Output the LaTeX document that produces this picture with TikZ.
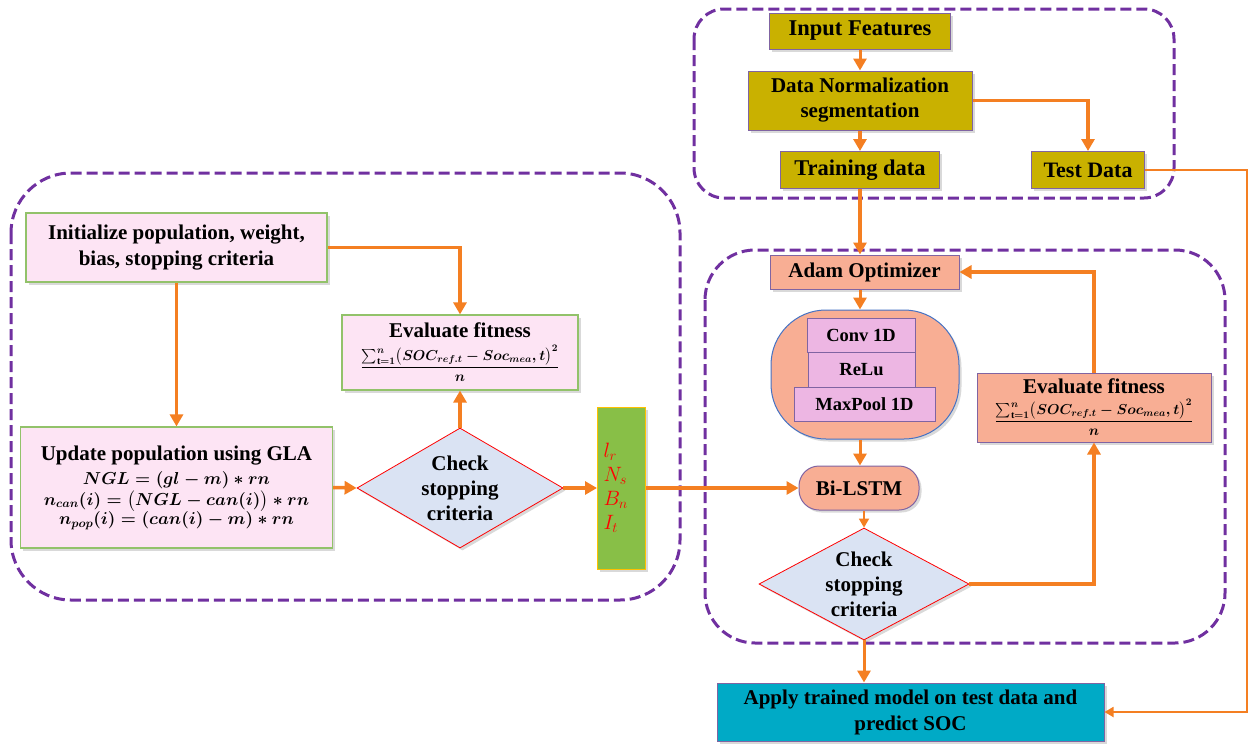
\documentclass[tikz,border=0pt]{standalone}
\usepackage{amsmath}
\usepackage{fontspec}
\setmainfont{Liberation Serif}
\usetikzlibrary{positioning}
\usetikzlibrary{arrows.meta}
\usetikzlibrary{shapes.geometric, shadows}

\definecolor{orng}{HTML}{F47F22}
\definecolor{dpurple}{HTML}{7030A0}
\definecolor{bpurple}{HTML}{8064A2}
\definecolor{lpink}{HTML}{FDE4F4}
\definecolor{lgreen}{HTML}{92C26A}
\definecolor{olive}{HTML}{C9B100}
\definecolor{salmon}{HTML}{F8AE94}
\definecolor{cpink}{HTML}{EDB6E3}
\definecolor{cblue}{HTML}{4472C4}
\definecolor{lblue}{HTML}{DAE3F3}
\definecolor{pgreen}{HTML}{88BF47}
\definecolor{pyellow}{HTML}{FFC000}
\definecolor{teal}{HTML}{00AAC6}

\begin{document}
\begin{tikzpicture}[x=1pt, y=-1pt,
		>={Triangle[length=12pt,width=13pt]},
		every node/.style={font=\bfseries\fontsize{21}{26}\selectfont, align=center, inner sep=0pt},
		shade/.style={drop shadow={shadow xshift=2.5pt, shadow yshift=-2.5pt, opacity=.3}},
		pbox/.style={draw=lgreen, fill=lpink, line width=1.2pt, shade},
		obox/.style={draw=bpurple, fill=olive, line width=1pt, shade},
		sbox/.style={draw=bpurple, fill=salmon, line width=1pt, shade},
		cbox/.style={draw=bpurple, fill=cpink, line width=1pt, font=\bfseries\fontsize{18.5}{22}\selectfont},
		chk/.style={diamond, aspect=1.75, draw=red, fill=lblue, line width=.8pt, font=\bfseries\fontsize{21}{25}\selectfont, shade},
		frame/.style={draw=dpurple, line width=3pt, dash pattern=on 11pt off 5pt},
		arr/.style={->, draw=orng, line width=3.5pt},
		tarr/.style={->, draw=orng, line width=1.8pt, >={Triangle[length=9pt,width=10pt]}}]
	\useasboundingbox (0,0) rectangle (1258,744);

	\draw[frame, rounded corners=60pt] (11,173) rectangle (680,600);
	\draw[frame, rounded corners=30pt] (694,9) rectangle (1174,198);
	\draw[frame, rounded corners=50pt] (705,250) rectangle (1225,643);

	\node[pbox, minimum width=301pt, minimum height=69pt] (init) at (176.5,247.5) {Initialize population, weight,\\bias, stopping criteria};
	\node[pbox, minimum width=312pt, minimum height=121pt, font=\bfseries\fontsize{21}{20.5}\selectfont] (upd) at (176.5,487.5)
		{Update population using GLA\\[4pt]
		{\fontsize{16.5}{20}\selectfont\boldmath $NGL=(gl-m)*rn$}\\
		{\fontsize{16.5}{20}\selectfont\boldmath $n_{can}(i)=\bigl(NGL-can(i)\bigr)*rn$}\\[-1pt]
		{\fontsize{16.5}{20}\selectfont\boldmath $n_{pop}(i)=(can(i)-m)*rn$}};
	\node[pbox, minimum width=236pt, minimum height=75pt] (fitL) at (460,352.5)
		{Evaluate fitness\\[7pt]
		{\fontsize{14.5}{16}\selectfont\boldmath $\genfrac{}{}{}{0}{{\textstyle\sum_{\mathrm{t}=1}^{n}}\bigl(SOC_{ref.t}-Soc_{mea},t\bigr)^{2}}{n}$}};
	\node[chk, minimum width=206pt, minimum height=120pt] (chkL) at (460,488) {Check\\stopping\\criteria};
	\node[draw=pyellow, fill=pgreen, line width=1pt, shade, minimum width=48pt, minimum height=162pt, text width=36pt, align=left,
		text=red, font=\fontsize{21}{24}\selectfont] (par) at (621.5,488) {$l_r$\\$N_s$\\$B_n$\\$I_t$};

	\node[obox, minimum width=181pt, minimum height=36pt, font=\bfseries\fontsize{22.5}{26}\selectfont] (inp) at (860,31) {Input Features};
	\node[obox, minimum width=224pt, minimum height=59pt, font=\bfseries\fontsize{21}{25}\selectfont] (norm) at (860,100.5) {Data Normalization\\segmentation};
	\node[obox, minimum width=159pt, minimum height=37pt, font=\bfseries\fontsize{22.5}{26}\selectfont] (train) at (860,170) {Training data};
	\node[obox, minimum width=113pt, minimum height=37pt, font=\bfseries\fontsize{22}{26}\selectfont] (test) at (1088,170) {Test Data};

	\node[sbox, minimum width=189pt, minimum height=34pt] (adam) at (864.5,272) {Adam Optimizer};
	\node[draw=cblue, fill=salmon, line width=1pt, rounded corners=55pt, shade, minimum width=188pt, minimum height=129pt] (cnn) at (865,374.5) {};
	\node[cbox, minimum width=108pt, minimum height=34pt] (conv) at (861,335) {Conv 1D};
	\node[cbox, minimum width=107pt, minimum height=35pt] (relu) at (861.5,369.5) {ReLu};
	\node[cbox, minimum width=141pt, minimum height=34pt] (pool) at (864.5,404) {MaxPool 1D};
	\node[sbox, rounded corners=20pt, minimum width=120pt, minimum height=44pt] (lstm) at (859,488) {Bi-LSTM};
	\node[chk, minimum width=210pt, minimum height=112pt] (chkR) at (864,584) {Check\\stopping\\criteria};
	\node[sbox, minimum width=234pt, minimum height=69pt] (fitR) at (1094,407.5)
		{Evaluate fitness\\[5pt]
		{\fontsize{14.5}{16}\selectfont\boldmath $\genfrac{}{}{}{0}{{\textstyle\sum_{\mathrm{t}=1}^{n}}\bigl(SOC_{ref.t}-Soc_{mea},t\bigr)^{2}}{n}$}};
	\node[draw=bpurple, fill=teal, line width=1pt, shade, minimum width=387pt, minimum height=58pt] (apply) at (910.5,712) {Apply trained model on test data and\\predict SOC};
	\coordinate (tc) at (1247,170);

	\draw[arr] (init.east) -| (fitL.north);
	\draw[arr] (init.south) -- (upd.north);
	\draw[arr] (upd.east) -- (chkL.west);
	\draw[arr] (chkL.north) -- (fitL.south);
	\draw[arr] (chkL.east) -- (par.west);
	\draw[arr] (par.east) -- (lstm.west);
	\draw[arr, line width=3pt] (inp.south) -- (norm.north);
	\draw[arr, line width=4pt] (norm.south) -- (train.north);
	\draw[arr] (norm.east) -| (test.north);
	\draw[arr, line width=4.5pt] (train.south) -- (train.south |- adam.north);
	\draw[tarr] (test.east) -| (tc) |- (apply.east);
	\draw[arr, line width=3pt] (adam.south -| train.south) -- (train.south |- cnn.north);
	\draw[arr, line width=3pt] (cnn.south -| train.south) -- (train.south |- lstm.north);
	\draw[tarr] (lstm.south -| chkR.north) -- (chkR.north);
	\draw[arr, line width=4.5pt] (chkR.east) -| (fitR.south);
	\draw[arr, line width=4.5pt] (fitR.north) |- (adam.east);
	\draw[arr, line width=3pt] (chkR.south) -- (apply.north -| chkR.south);
\end{tikzpicture}
\end{document}
